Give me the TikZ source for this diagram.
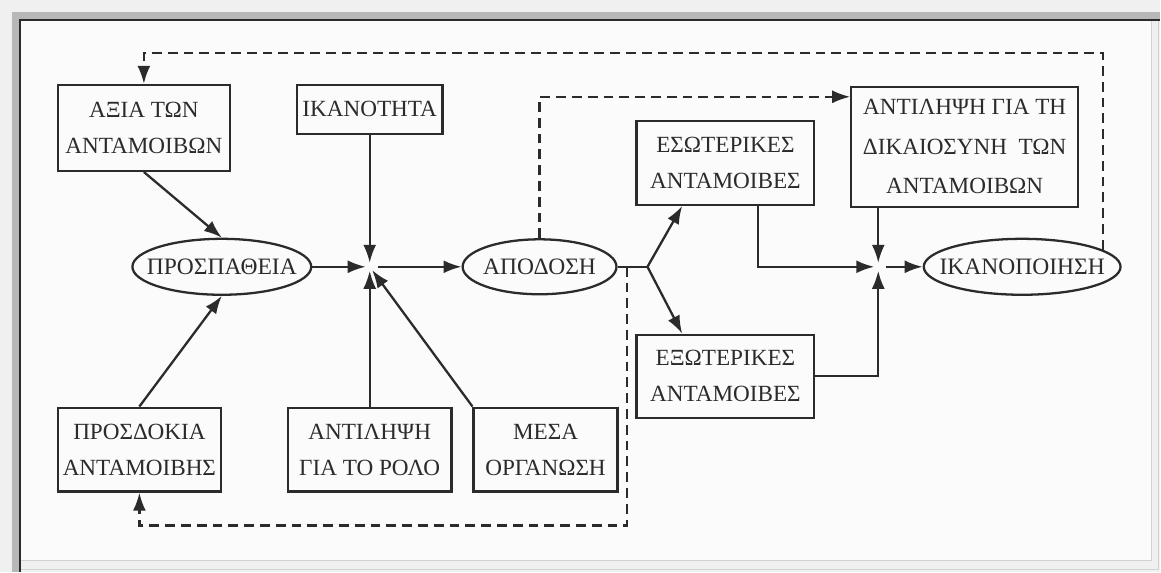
\documentclass[tikz,border=0pt]{standalone}
\usepackage{fontspec}
\setmainfont{Liberation Serif}
\usetikzlibrary{shapes.geometric,arrows.meta,calc}
\definecolor{ink}{HTML}{2B2B2B}
\definecolor{paper}{HTML}{FBFBFB}
\definecolor{frameband}{HTML}{B8B8B8}
\definecolor{outer}{HTML}{F0F0F0}
\definecolor{edge}{HTML}{D2D2D2}

\begin{document}
\begin{tikzpicture}[x=0.02cm, y=-0.02cm,
    line/.style={draw=ink, line width=1.3pt},
    block/.style={rectangle, line, align=center, text=ink, inner sep=0pt,
        font=\fontsize{13.2}{20.5}\selectfont},
    oval/.style={ellipse, line, inner sep=0pt},
    ovaltext/.style={text=ink, inner sep=0pt, font=\fontsize{13.4}{15}\selectfont},
    arrow/.style={line, -{Latex[length=3.6mm,width=2.6mm]}},
    feedback/.style={arrow, dash pattern=on 5.6pt off 3.4pt},
    into/.style={shorten >=2.3pt},
    outof/.style={shorten <=4.5pt}
]
% frame
\fill[outer] (0,0) rectangle (1161,572);
\fill[frameband] (12,12) rectangle (1161,20);
\fill[frameband] (12,12) rectangle (20,572);
\fill[paper] (20,20) rectangle (1152,561);
\draw[edge] (1152,20) -- (1152,561) -- (20,561);
\draw[edge] (1159,20) -- (1159,570) -- (20,570);
\draw[ink, line width=1.1pt] (1161,20) -- (20,20) -- (20,572);
\useasboundingbox (0,0) rectangle (1161,572);

\node[block, minimum width=3.44cm, minimum height=1.72cm] (axia) at (144,128) {ΑΞΙΑ ΤΩΝ\\ΑΝΤΑΜΟΙΒΩΝ};
\node[block, minimum width=2.92cm, minimum height=0.98cm] (ikan) at (370,109.5) {ΙΚΑΝΟΤΗΤΑ};
\node[oval, minimum width=3.58cm, minimum height=1.12cm,
    label={[ovaltext]center:ΠΡΟΣΠΑΘΕΙΑ}] (prosp) at (222,267) {};
\node[oval, minimum width=3.08cm, minimum height=1.10cm,
    label={[ovaltext]center:ΑΠΟΔΟΣΗ}] (apod) at (540,267) {};
\node[block, minimum width=3.56cm, minimum height=1.68cm] (esot) at (726,163) {ΕΣΩΤΕΡΙΚΕΣ\\ΑΝΤΑΜΟΙΒΕΣ};
\node[block, minimum width=3.56cm, minimum height=1.66cm] (exot) at (726,376.5) {ΕΞΩΤΕΡΙΚΕΣ\\ΑΝΤΑΜΟΙΒΕΣ};
\node[block, minimum width=4.54cm, minimum height=2.40cm, font=\fontsize{13.2}{22.5}\selectfont]
    (dikaio) at (965.5,147) {ΑΝΤΙΛΗΨΗ ΓΙΑ ΤΗ\\ΔΙΚΑΙΟΣΥΝΗ\enspace ΤΩΝ\\ΑΝΤΑΜΟΙΒΩΝ};
\node[oval, minimum width=3.94cm, minimum height=1.12cm,
    label={[ovaltext]center:ΙΚΑΝΟΠΟΙΗΣΗ}] (ikanop) at (1023,267) {};
\node[block, minimum width=3.26cm, minimum height=1.68cm] (prosd) at (139.5,450) {ΠΡΟΣΔΟΚΙΑ\\ΑΝΤΑΜΟΙΒΗΣ};
\node[block, minimum width=3.28cm, minimum height=1.68cm] (rolo) at (370,450) {ΑΝΤΙΛΗΨΗ\\ΓΙΑ ΤΟ ΡΟΛΟ};
\node[block, minimum width=2.88cm, minimum height=1.68cm] (mesa) at (546,450) {ΜΕΣΑ\\ΟΡΓΑΝΩΣΗ};

\coordinate (j1) at (370,267);
\coordinate (j2) at (879,267);
\coordinate (split) at (648,267);
\coordinate (top) at (600,53);
\coordinate (bot) at (400,526);

% solid connectors
\draw[arrow] (axia.south) -- (prosp.north);
\draw[arrow] (prosd.north) -- (prosp.south);
\draw[arrow, into] (prosp.east) -- (j1);
\draw[arrow, into] (ikan.south) -- (j1);
\draw[arrow, into] (rolo.north) -- (j1);
\draw[arrow, into] (mesa.north west) -- (j1);
\draw[arrow, outof] (j1) -- (apod.west);
\draw[line] (apod.east) -- (split);
\draw[arrow] (split) -- ($(esot.south west)!0.26!(esot.south east)$);
\draw[arrow] (split) -- ($(exot.north west)!0.26!(exot.north east)$);
\draw[arrow, into] ($(esot.south west)!0.68!(esot.south east)$) |- (j2);
\draw[arrow, into] (exot.east) -| (j2);
\draw[arrow, into] (dikaio.south -| j2) -- (j2);
\draw[arrow, outof] (j2) -- (ikanop.west);

% dashed feedback
\draw[feedback] (apod.north) |- ([yshift=-0.22cm]dikaio.north west);
\draw[feedback] (ikanop.12) |- (top) -| (axia.north);
\draw[feedback] ($(apod.east)!0.32!(split)$) |- (bot) -| (prosd.south);
\end{tikzpicture}
\end{document}
